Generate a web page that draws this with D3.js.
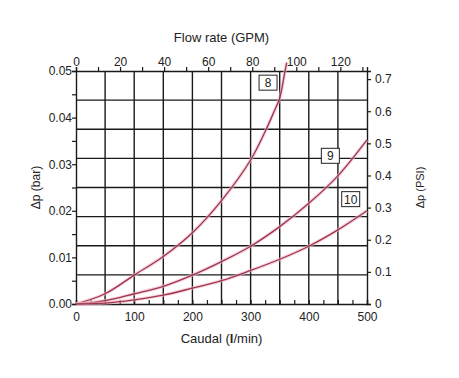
<!DOCTYPE html>
<meta charset="utf-8">
<head>
    <title>Caudal vs pressure drop</title>
    <style>
      body { margin: 0; background: #fff; }
      text { font-family: Arial, "Liberation Sans", sans-serif; fill: #222; }
    </style>
</head>
<script src="https://d3js.org/d3.v7.min.js"></script>

<div id="my_dataviz"></div>
<script>

// curve data: [flow l/min, dp bar]
var curve8 = [[0,0],[50,0.0022],[100,0.0062],[150,0.0102],[200,0.0153],[250,0.0222],[300,0.0309],[325,0.0370],[340,0.0412],[350,0.0442],[358,0.0492],[362,0.0518]];
var curve9 = [[0,0],[50,0.0007],[100,0.0022],[150,0.0038],[200,0.0062],[250,0.0091],[300,0.0124],[350,0.0166],[400,0.0216],[450,0.0275],[500,0.0352]];
var curve10 = [[0,0],[50,0.0002],[100,0.0009],[150,0.0019],[200,0.0034],[250,0.0050],[300,0.0072],[350,0.0096],[400,0.0124],[450,0.0159],[500,0.0200]];

var curveNames = ["8", "9", "10"];
// where the little boxed labels sit, in data units (flow, dp)
var labelPos = [[330, 0.0475], [437, 0.0318], [472, 0.0225]];

var barTicks = [0, 0.01, 0.02, 0.03, 0.04, 0.05];
var psiTicks = [0, 0.1, 0.2, 0.3, 0.4, 0.5, 0.6, 0.7];
var gpmTicks = [0, 20, 40, 60, 80, 100, 120];
var flowTicks = [0, 100, 200, 300, 400, 500];

var width = 459, height = 378;
var margin = {top: 71, right: 92, bottom: 74, left: 76};

var svg = d3.select("#my_dataviz")
  .append("svg")
    .attr("width", width)
    .attr("height", height);

var x = d3.scaleLinear().domain([0, 500]).range([margin.left, width - margin.right]);
var y = d3.scaleLinear().domain([0, 0.05]).range([height - margin.bottom, margin.top]);
// secondary scales, same pixels in other units
var xGpm = d3.scaleLinear().domain([0, 500 / 3.785]).range(x.range());
var yPsi = d3.scaleLinear().domain([0, 0.05 * 14.5038]).range(y.range());

var gridColor = "#1a1a1a";

// grid: vertical every 50 l/min, horizontal 8 equal bands
var g = svg.append("g");
g.selectAll(".vg").data(d3.range(50, 500, 50)).enter().append("line")
    .attr("x1", d => x(d)).attr("x2", d => x(d))
    .attr("y1", y(0)).attr("y2", y(0.05))
    .attr("stroke", gridColor).attr("stroke-width", 1.4);
g.selectAll(".hg").data(d3.range(1, 8)).enter().append("line")
    .attr("x1", x(0)).attr("x2", x(500))
    .attr("y1", d => y(d * 0.05 / 8)).attr("y2", d => y(d * 0.05 / 8))
    .attr("stroke", gridColor).attr("stroke-width", 1.4);

// axes
var axisLeft = d3.axisLeft(y).tickValues(d3.range(0, 0.0501, 0.005)).tickSize(4)
    .tickFormat(d => barTicks.some(t => Math.abs(t - d) < 1e-9) ? d3.format(".2f")(d) : "");
var axisRight = d3.axisRight(yPsi).tickValues(psiTicks).tickSize(4)
    .tickFormat(d => d === 0 ? "0" : d3.format(".1f")(d));
var axisTop = d3.axisTop(xGpm).tickValues(d3.range(0, 131, 10)).tickSize(4)
    .tickFormat(d => gpmTicks.indexOf(d) >= 0 ? d : "");
var axisBottom = d3.axisBottom(x).tickValues(d3.range(0, 501, 25)).tickSize(-4)
    .tickFormat(d => flowTicks.indexOf(d) >= 0 ? d : "");

function styleAxis(sel) {
  sel.select(".domain").attr("stroke", gridColor).attr("stroke-width", 1.4);
  sel.selectAll(".tick line").attr("stroke", gridColor).attr("stroke-width", 1.2);
  sel.selectAll("text").style("font-size", "12px").attr("fill", "#222");
}

svg.append("g").attr("transform", "translate(" + x(0) + ",0)")
    .call(axisLeft).call(styleAxis)
    .call(s => s.selectAll("text").attr("x", -4));
svg.append("g").attr("transform", "translate(" + x(500) + ",0)")
    .call(axisRight).call(styleAxis)
    .call(s => s.selectAll("text").attr("x", 8));
svg.append("g").attr("transform", "translate(0," + y(0.05) + ")")
    .call(axisTop).call(styleAxis)
    .call(s => s.selectAll("text").attr("y", -5));
svg.append("g").attr("transform", "translate(0," + y(0) + ")")
    .call(axisBottom).call(styleAxis)
    .call(s => s.selectAll("text").attr("y", 8));

// curves
var line = d3.line()
    .x(d => x(d[0]))
    .y(d => y(d[1]))
    .curve(d3.curveCatmullRom.alpha(0.5));

[curve8, curve9, curve10].forEach(function(c) {
  svg.append("path")
    .attr("d", line(c))
    .attr("fill", "none")
    .attr("stroke", "#f4b8c4")
    .attr("stroke-width", 3.5)
    .attr("opacity", 0.6);
  svg.append("path")
    .attr("d", line(c))
    .attr("fill", "none")
    .attr("stroke", "#9c3550")
    .attr("stroke-width", 1.3);
});

// boxed curve labels
curveNames.forEach(function(name, i) {
  var cx = x(labelPos[i][0]), cy = y(labelPos[i][1]);
  var w = 18;
  svg.append("rect")
    .attr("x", cx - w / 2).attr("y", cy - 7.5)
    .attr("width", w).attr("height", 15)
    .attr("fill", "#fff").attr("stroke", "#222").attr("stroke-width", 1);
  svg.append("text")
    .attr("x", cx).attr("y", cy + 4.5)
    .attr("text-anchor", "middle")
    .style("font-size", "12px")
    .text(name);
});

// titles
svg.append("text")
    .attr("x", (x(0) + x(500)) / 2).attr("y", 42)
    .attr("text-anchor", "middle")
    .style("font-size", "13px")
    .text("Flow rate (GPM)");

var bt = svg.append("text")
    .attr("x", (x(0) + x(500)) / 2).attr("y", 343)
    .attr("text-anchor", "middle")
    .style("font-size", "13px");
bt.append("tspan").text("Caudal (");
bt.append("tspan").style("font-weight", "bold").text("l");
bt.append("tspan").text("/min)");

svg.append("text")
    .attr("transform", "translate(40," + ((y(0) + y(0.05)) / 2) + ") rotate(-90)")
    .attr("text-anchor", "middle")
    .style("font-size", "12px")
    .text("Δp (bar)");

svg.append("text")
    .attr("transform", "translate(424," + ((y(0) + y(0.05)) / 2) + ") rotate(-90)")
    .attr("text-anchor", "middle")
    .style("font-size", "11px")
    .text("Δp (PSI)");

</script>
